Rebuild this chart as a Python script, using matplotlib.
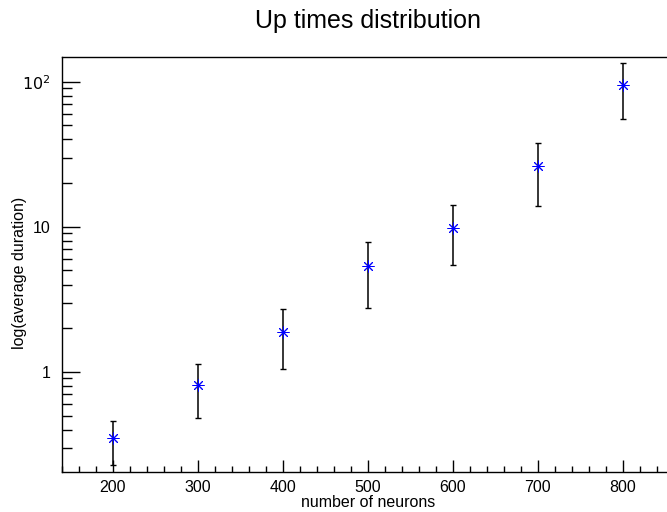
import numpy as np
import matplotlib
matplotlib.use('Agg')
import matplotlib.pyplot as plt
from matplotlib.ticker import FixedLocator, MultipleLocator, LogLocator, NullFormatter

plt.rcParams['font.family'] = ['Liberation Sans', 'DejaVu Sans']

# data
neurons = [200, 300, 400, 500, 600, 700, 800]
duration = [0.35, 0.81, 1.89, 5.38, 9.84, 26.3, 95.3]
err_hi = [0.46, 1.14, 2.72, 7.88, 14.2, 37.9, 135.0]
err_lo = [0.228, 0.48, 1.05, 2.76, 5.47, 14.0, 55.6]

y_ticks = [1, 10, 100]
y_tick_labels = ['1', '10', '$10^2$']

duration = np.array(duration)
yerr = [duration - np.array(err_lo), np.array(err_hi) - duration]

W, H = 667, 512
fig = plt.figure(figsize=(W / 100, H / 100), dpi=100)
ax = fig.add_axes([62 / W, 1 - 472 / H, 1 - 62 / W, (472 - 57) / H])

ax.errorbar(neurons, duration, yerr=yerr, fmt='none', ecolor='black',
            elinewidth=1.1, capsize=2.5, capthick=1.0)
ax.plot(neurons, duration, linestyle='none', marker=(8, 2, 0),
        markersize=8.5, color='blue', markeredgewidth=0.7)

ax.set_yscale('log')
ax.set_xlim(140, 852)
ax.set_ylim(0.204, 148)

ax.xaxis.set_major_locator(MultipleLocator(100))
ax.xaxis.set_minor_locator(MultipleLocator(20))
ax.yaxis.set_major_locator(FixedLocator(y_ticks))
ax.set_yticklabels(y_tick_labels)
ax.yaxis.set_minor_locator(LogLocator(base=10, subs=np.arange(2, 10)))
ax.yaxis.set_minor_formatter(NullFormatter())

ax.tick_params(which='both', direction='in', top=False, right=False,
               labelsize=11.5, width=1, color='black')
ax.tick_params(axis='x', which='major', length=8.5, pad=5.5)
ax.tick_params(axis='x', which='minor', length=4.3)
ax.tick_params(axis='y', which='major', length=13, pad=8)
ax.tick_params(axis='y', which='minor', length=7)

ax.spines['right'].set_visible(False)
for s in ['left', 'bottom', 'top']:
    ax.spines[s].set_linewidth(1.0)

fig.text(368 / W, 1 - 507 / H, 'number of neurons', fontsize=11.5,
         ha='center', va='baseline')
fig.text(20 / W, 1 - 273 / H, 'log(average duration)', fontsize=11.5,
         ha='center', va='center', rotation=90)
fig.text(368 / W, 1 - 28 / H, 'Up times distribution', fontsize=18,
         ha='center', va='baseline')

fig.savefig('out.png', dpi=100)
